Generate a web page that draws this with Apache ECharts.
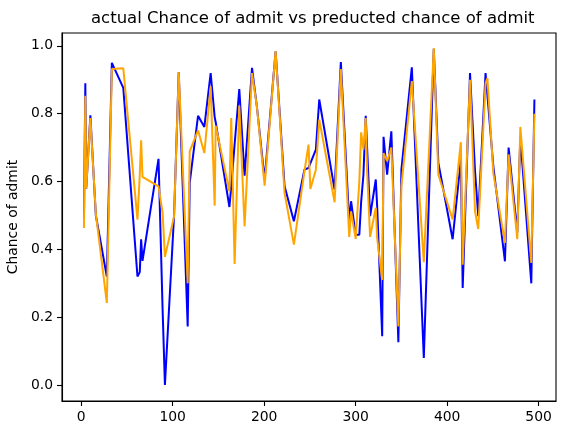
<!DOCTYPE html>
<html>
<head>
<meta charset="utf-8">
<script src="https://cdn.jsdelivr.net/npm/echarts@6/dist/echarts.min.js"></script>
<style>
  html, body { margin: 0; padding: 0; background: #fff; }
  #chart { width: 567px; height: 435px; }
</style>
</head>
<body>
<div id="chart"></div>
<script>
// row index of each test sample (x axis)
const sampleIdx = [3, 4.5, 5.5, 10, 16, 28, 33.5, 46, 61.5, 64, 65.5, 67, 84.5, 89, 91.5,
  101.5, 106.6, 116.4, 118.6, 127.7, 134.6, 141.5, 145.9, 147, 162, 164, 167.7, 172.8,
  178.6, 186.7, 192, 200.5, 212.5, 222.3, 232.5, 244, 248.5, 250.5, 256.5, 260.2, 277,
  283.8, 293, 295, 300, 304, 306, 308.5, 311, 312.5, 315.8, 322, 323.5, 329, 330.5,
  334.4, 339, 346.7, 350, 361.4, 374.5, 385.4, 390.4, 406, 415, 417, 425, 430.5, 434,
  442, 444, 450.5, 463.2, 467.2, 476.7, 480, 492, 495.4];

const actual = [0.49, 0.89, 0.58, 0.795, 0.50, 0.32, 0.95, 0.876, 0.32, 0.333, 0.43, 0.366,
  0.667, 0.22, 0.0, 0.50, 0.922, 0.173, 0.596, 0.794, 0.761, 0.92, 0.79, 0.775, 0.525,
  0.585, 0.71, 0.873, 0.617, 0.935, 0.822, 0.606, 0.984, 0.586, 0.483, 0.635, 0.64,
  0.645, 0.694, 0.842, 0.576, 0.952, 0.48, 0.542, 0.443, 0.443, 0.54, 0.62, 0.794, 0.70,
  0.498, 0.606, 0.527, 0.144, 0.732, 0.62, 0.748, 0.126, 0.635, 0.937, 0.08, 0.991,
  0.655, 0.43, 0.665, 0.286, 0.92, 0.63, 0.498, 0.92, 0.92, 0.645, 0.365, 0.70, 0.45,
  0.732, 0.30, 0.842];

const predicted = [0.463, 0.853, 0.58, 0.787, 0.505, 0.242, 0.932, 0.934, 0.488, 0.62, 0.722,
  0.614, 0.586, 0.507, 0.378, 0.497, 0.922, 0.30, 0.689, 0.751, 0.684, 0.881, 0.529,
  0.765, 0.571, 0.787, 0.357, 0.824, 0.468, 0.92, 0.822, 0.588, 0.985, 0.566, 0.414,
  0.63, 0.709, 0.578, 0.635, 0.783, 0.539, 0.932, 0.437, 0.512, 0.431, 0.60, 0.745,
  0.694, 0.787, 0.63, 0.437, 0.523, 0.434, 0.31, 0.684, 0.66, 0.70, 0.173, 0.586, 0.896,
  0.362, 0.994, 0.62, 0.488, 0.716, 0.355, 0.90, 0.512, 0.46, 0.89, 0.905, 0.625, 0.419,
  0.68, 0.43, 0.761, 0.36, 0.80];

const xTicks = [0, 100, 200, 300, 400, 500];
const yTicks = [0, 0.2, 0.4, 0.6, 0.8, 1.0];

const font = "DejaVu Sans";
const chart = echarts.init(document.getElementById("chart"), null, { renderer: "canvas" });

const axisLine = { show: true, onZero: false, lineStyle: { color: "#000", width: 1.1 } };
const tick = (vals) => ({ show: true, inside: false, customValues: vals, length: 5, lineStyle: { color: "#000", width: 1.1 } });

chart.setOption({
  animation: false,
  backgroundColor: "#fff",
  title: {
    text: "actual Chance of admit vs preducted chance of admit",
    left: 86,
    top: 5,
    textStyle: { fontFamily: font, fontSize: 16.5, fontWeight: "normal", color: "#000" }
  },
  grid: {
    left: 62, right: 11, top: 33, bottom: 34,
    outerBoundsMode: "none",
    containLabel: false,
    show: true, borderColor: "#000", borderWidth: 1.1, backgroundColor: "transparent"
  },
  xAxis: {
    type: "value",
    min: -21, max: 519,
    axisLine: axisLine,
    splitLine: { show: false },
    axisTick: tick(xTicks),
    axisLabel: {
      customValues: xTicks, margin: 9, color: "#000",
      fontFamily: font, fontSize: 13.9
    }
  },
  yAxis: {
    type: "value",
    min: -0.047, max: 1.038,
    name: "Chance of admit",
    nameLocation: "middle",
    nameRotate: 90,
    nameGap: 37,
    nameTextStyle: { fontFamily: font, fontSize: 13.9, color: "#000" },
    axisLine: axisLine,
    splitLine: { show: false },
    axisTick: tick(yTicks),
    axisLabel: {
      customValues: yTicks, margin: 9, color: "#000",
      fontFamily: font, fontSize: 13.9,
      formatter: (v) => v.toFixed(1)
    }
  },
  series: [
    {
      name: "actual",
      type: "line",
      symbol: "none",
      data: sampleIdx.map((x, i) => [x, actual[i]]),
      lineStyle: { color: "#0000ff", width: 2 }
    },
    {
      name: "predicted",
      type: "line",
      symbol: "none",
      data: sampleIdx.map((x, i) => [x, predicted[i]]),
      lineStyle: { color: "#ffa500", width: 2 }
    }
  ]
});
</script>
</body>
</html>
